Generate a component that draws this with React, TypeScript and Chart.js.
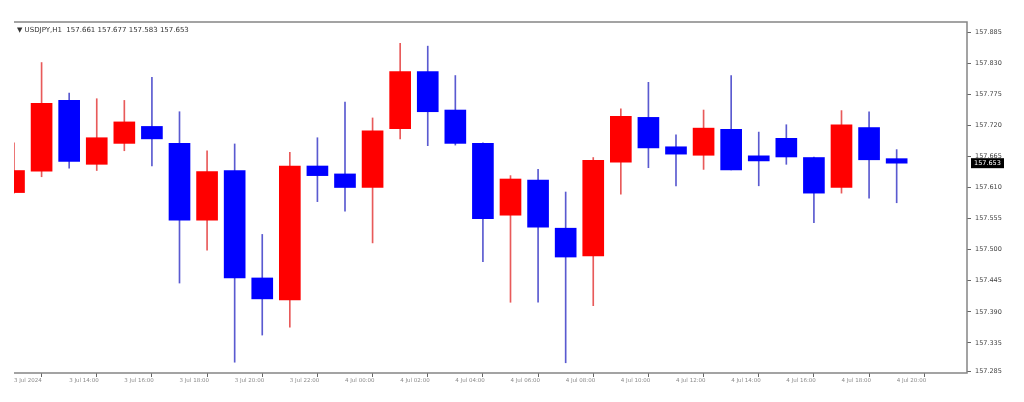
import React, { useEffect, useRef } from "react";
import { Chart, registerables } from "chart.js";

Chart.register(...registerables);

const symbolName = "USDJPY,H1";

const opens = [
  157.601, 157.639, 157.764, 157.651, 157.688, 157.718, 157.688, 157.552, 157.640, 157.450,
  157.411, 157.648, 157.634, 157.610, 157.714, 157.815, 157.747, 157.688, 157.561, 157.623,
  157.538, 157.489, 157.655, 157.734, 157.682, 157.667, 157.713, 157.666, 157.697, 157.663,
  157.610, 157.716, 157.661,
];
const highs = [
  157.689, 157.831, 157.777, 157.767, 157.764, 157.805, 157.744, 157.675, 157.687, 157.527,
  157.672, 157.698, 157.761, 157.733, 157.865, 157.860, 157.808, 157.689, 157.631, 157.642,
  157.602, 157.663, 157.749, 157.796, 157.703, 157.747, 157.808, 157.708, 157.721, 157.664,
  157.746, 157.744, 157.677,
];
const lows = [
  157.600, 157.629, 157.644, 157.640, 157.675, 157.648, 157.441, 157.499, 157.301, 157.349,
  157.363, 157.585, 157.568, 157.512, 157.696, 157.684, 157.685, 157.479, 157.407, 157.407,
  157.300, 157.401, 157.598, 157.645, 157.613, 157.642, 157.641, 157.613, 157.651, 157.548,
  157.600, 157.591, 157.583,
];
const closes = [
  157.640, 157.759, 157.656, 157.698, 157.726, 157.696, 157.552, 157.638, 157.450, 157.413,
  157.648, 157.631, 157.610, 157.710, 157.815, 157.744, 157.688, 157.555, 157.625, 157.540,
  157.487, 157.658, 157.736, 157.680, 157.669, 157.715, 157.641, 157.657, 157.664, 157.600,
  157.721, 157.659, 157.653,
];

const yTickValues = [
  157.885, 157.83, 157.775, 157.72, 157.665, 157.61, 157.555, 157.5, 157.445, 157.39, 157.335, 157.285,
];

const xTickPositions = [0, 2, 4, 6, 8, 10, 12, 14, 16, 18, 20, 22, 24, 26, 28, 30, 32];
const xTickLabels = [
  "3 Jul 2024", "3 Jul 14:00", "3 Jul 16:00", "3 Jul 18:00", "3 Jul 20:00", "3 Jul 22:00",
  "4 Jul 00:00", "4 Jul 02:00", "4 Jul 04:00", "4 Jul 06:00", "4 Jul 08:00", "4 Jul 10:00",
  "4 Jul 12:00", "4 Jul 14:00", "4 Jul 16:00", "4 Jul 18:00", "4 Jul 20:00",
];

const UP = "#ff0000";
const DOWN = "#0000ff";
const UP_WICK = "#e85a5a";
const DOWN_WICK = "#5a5ad0";
const BORDER = "#858585";

export default function App() {
  const ref = useRef<HTMLCanvasElement | null>(null);

  useEffect(() => {
    document.body.style.margin = "0";
    document.body.style.background = "#ffffff";
    const canvas = ref.current;
    if (!canvas) return;

    const isUp = closes.map((c, i) => c >= opens[i]);
    const bodies = opens.map((o, i) => ({ x: i, y: [o, closes[i]] }));
    const wicks = opens.map((_, i) => ({ x: i, y: [lows[i], highs[i]] }));
    const last = opens.length - 1;

    const framePlugin = {
      id: "frame",
      afterDraw(chart: any) {
        const { ctx, chartArea } = chart;
        const { left, right, top, bottom } = chartArea;
        ctx.save();
        ctx.strokeStyle = BORDER;
        ctx.lineWidth = 1.5;
        ctx.beginPath();
        ctx.moveTo(left, top);
        ctx.lineTo(right, top);
        ctx.lineTo(right, bottom);
        ctx.lineTo(left, bottom);
        ctx.stroke();

        // title
        ctx.fillStyle = "#333333";
        ctx.font = "7px 'DejaVu Sans'";
        ctx.textBaseline = "middle";
        ctx.textAlign = "left";
        const t = `\u25BC ${symbolName}  ${opens[last].toFixed(3)} ${highs[last].toFixed(3)} ${lows[last].toFixed(3)} ${closes[last].toFixed(3)}`;
        ctx.fillText(t, left + 3, top + 8);

        // current price box
        const y = chart.scales.y.getPixelForValue(closes[last]);
        ctx.fillStyle = "#000000";
        ctx.fillRect(right + 4, y - 5, 33, 10);
        ctx.fillStyle = "#ffffff";
        ctx.font = "6.5px 'DejaVu Sans'";
        ctx.fillText(closes[last].toFixed(3), right + 7, y + 0.5);
        ctx.restore();
      },
    };

    const chart = new Chart(canvas, {
      type: "bar",
      data: {
        datasets: [
          {
            label: "wick",
            data: wicks as any,
            backgroundColor: isUp.map((u) => (u ? UP_WICK : DOWN_WICK)),
            borderWidth: 0,
            barThickness: 1,
            grouped: false,
            order: 2,
            clip: 0,
          } as any,
          {
            label: "body",
            data: bodies as any,
            backgroundColor: isUp.map((u) => (u ? UP : DOWN)),
            borderWidth: 0,
            barThickness: 21,
            grouped: false,
            order: 1,
            clip: 0,
          } as any,
        ],
      },
      options: {
        animation: false,
        responsive: false,
        maintainAspectRatio: false,
        layout: { padding: { left: 14, top: 22, right: 0, bottom: 0 } },
        plugins: {
          legend: { display: false },
          tooltip: { enabled: false },
          title: { display: false },
        },
        scales: {
          x: {
            type: "linear",
            min: 0,
            max: 34.55,
            offset: false,
            border: { display: false },
            grid: {
              drawOnChartArea: false,
              drawTicks: true,
              tickLength: 4,
              color: "#666666",
              lineWidth: 1,
            },
            ticks: {
              autoSkip: false,
              maxRotation: 0,
              minRotation: 0,
              align: "start",
              padding: 0,
              color: "#8a8a8a",
              font: { family: "DejaVu Sans", size: 5.5 },
              callback: (_v: any, i: number) => xTickLabels[i] ?? "",
            },
            afterBuildTicks: (scale: any) => {
              scale.ticks = xTickPositions.map((v) => ({ value: v }));
            },
            afterFit: (scale: any) => {
              scale.height = 29;
              scale.paddingLeft = 0;
              scale.paddingRight = 0;
            },
          } as any,
          y: {
            type: "linear",
            position: "right",
            min: 157.2819,
            max: 157.9027,
            border: { display: false },
            grid: {
              drawOnChartArea: false,
              drawTicks: true,
              tickLength: 4,
              color: "#666666",
              lineWidth: 1,
            },
            ticks: {
              padding: 4,
              color: "#444444",
              font: { family: "DejaVu Sans", size: 6.5 },
              callback: (v: any) => Number(v).toFixed(3),
            },
            afterBuildTicks: (scale: any) => {
              scale.ticks = yTickValues.map((v) => ({ value: v }));
            },
            afterFit: (scale: any) => {
              scale.width = 57;
              scale.paddingTop = 0;
              scale.paddingBottom = 0;
            },
          } as any,
        },
      },
      plugins: [framePlugin],
    });

    return () => chart.destroy();
  }, []);

  return <canvas ref={ref} width={1024} height={402} style={{ display: "block" }} />;
}
